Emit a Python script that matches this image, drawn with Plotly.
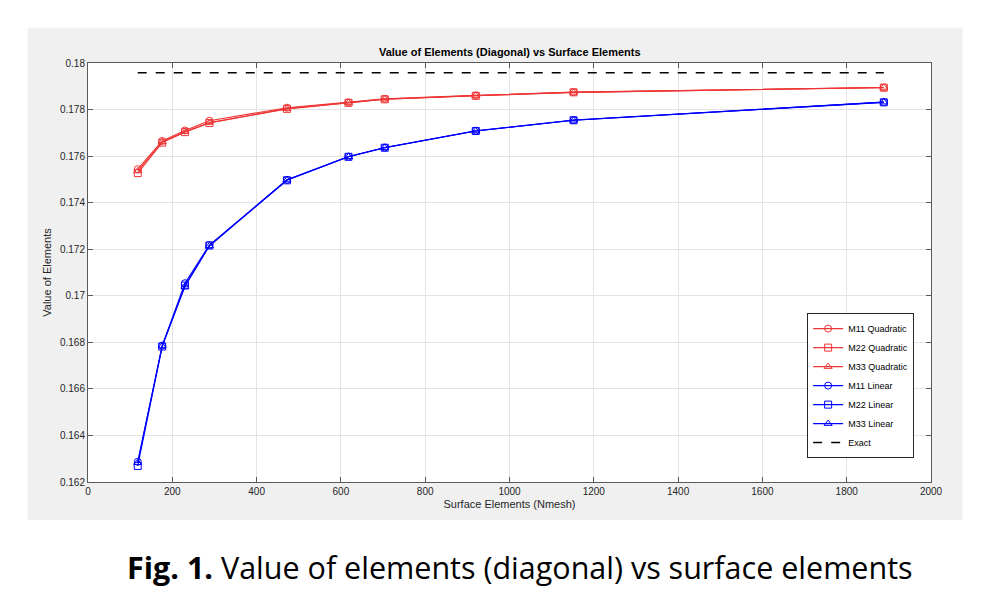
import plotly.graph_objects as go

# surface elements (Nmesh)
nmesh = [118, 176, 230, 288, 472, 618, 704, 920, 1152, 1888]

# quadratic elements
m11_quad = [0.17544, 0.17665, 0.17710, 0.17752, 0.17808, 0.17831, 0.17846, 0.17861, 0.17875, 0.17895]
m22_quad = [0.17527, 0.17658, 0.17703, 0.17742, 0.17803, 0.17829, 0.17844, 0.17859, 0.17874, 0.17894]
m33_quad = [0.17536, 0.17661, 0.17705, 0.17744, 0.17804, 0.17830, 0.17845, 0.17860, 0.17874, 0.17895]

# linear elements
m11_lin = [0.16287, 0.16786, 0.17054, 0.17218, 0.17498, 0.17598, 0.17637, 0.17709, 0.17755, 0.17832]
m22_lin = [0.16269, 0.16782, 0.17044, 0.17216, 0.17496, 0.17597, 0.17636, 0.17708, 0.17754, 0.17831]
m33_lin = [0.16283, 0.16784, 0.17040, 0.17214, 0.17497, 0.17597, 0.17636, 0.17708, 0.17754, 0.17832]

exact_x = [118, 1888]
exact_val = [0.17958, 0.17958]

red = "#ee3535"
blue = "#0000ff"
font = "Liberation Sans, Arial, sans-serif"

series = [
    ("M11 Quadratic", m11_quad, red, "circle-open"),
    ("M22 Quadratic", m22_quad, red, "square-open"),
    ("M33 Quadratic", m33_quad, red, "triangle-up-open"),
    ("M11 Linear", m11_lin, blue, "circle-open"),
    ("M22 Linear", m22_lin, blue, "square-open"),
    ("M33 Linear", m33_lin, blue, "triangle-up-open"),
]

fig = go.Figure()
for name, vals, col, sym in series:
    fig.add_trace(go.Scatter(
        x=nmesh, y=vals, name=name, mode="lines+markers",
        line=dict(color=col, width=1.1),
        marker=dict(symbol=sym, size=7, color=col, line=dict(color=col, width=1)),
    ))

fig.add_trace(go.Scatter(
    x=exact_x, y=exact_val, name="Exact", mode="lines",
    line=dict(color="black", width=1.5, dash="dash"),
))

# grey matlab figure background, then white axes area on top of it
fig.add_shape(type="rect", xref="paper", yref="paper",
              x0=-0.0715, x1=1.0374, y0=-0.0908, y1=1.0843,
              fillcolor="#f0f0f0", line=dict(width=0), layer="below")
fig.add_shape(type="rect", xref="paper", yref="paper",
              x0=0, x1=1, y0=0, y1=1,
              fillcolor="white", line=dict(width=0), layer="below")

fig.add_annotation(
    text="<b>Fig. 1.</b> Value of elements (diagonal) vs surface elements",
    xref="paper", yref="paper", x=0.512, y=-0.203,
    xanchor="center", yanchor="middle", showarrow=False,
    font=dict(family="Open Sans, sans-serif", size=30.5, color="black"),
)

axis_common = dict(
    showline=True, linecolor="#5a5a5a", linewidth=1, mirror="ticks",
    ticks="inside", ticklen=5, tickcolor="#5a5a5a",
    showgrid=True, gridcolor="#e3e3e3", gridwidth=1, zeroline=False,
    tickfont=dict(family=font, size=10, color="#262626"),
)

# page body has an 8px margin, so the figure is shrunk to fit the window
fig.update_layout(
    width=980, height=582,
    margin=dict(l=80, r=57, t=55, b=108),
    paper_bgcolor="white", plot_bgcolor="white",
    title=dict(text="<b>Value of Elements (Diagonal) vs Surface Elements</b>",
               x=0.512, xanchor="center", y=0.925, yanchor="middle",
               font=dict(family=font, size=11, color="black")),
    xaxis=dict(range=[0, 2000], dtick=200,
               title=dict(text="Surface Elements (Nmesh)", standoff=4,
                          font=dict(family=font, size=11, color="#262626")),
               **axis_common),
    yaxis=dict(range=[0.162, 0.18], dtick=0.002,
               title=dict(text="Value of Elements", standoff=6,
                          font=dict(family=font, size=11, color="#262626")),
               **axis_common),
    legend=dict(x=0.98, y=0.057, xanchor="right", yanchor="bottom",
                bgcolor="white", bordercolor="#262626", borderwidth=1,
                font=dict(family=font, size=9, color="black"),
                itemwidth=30, tracegroupgap=0),
    showlegend=True,
)

fig.write_html("out.html")
